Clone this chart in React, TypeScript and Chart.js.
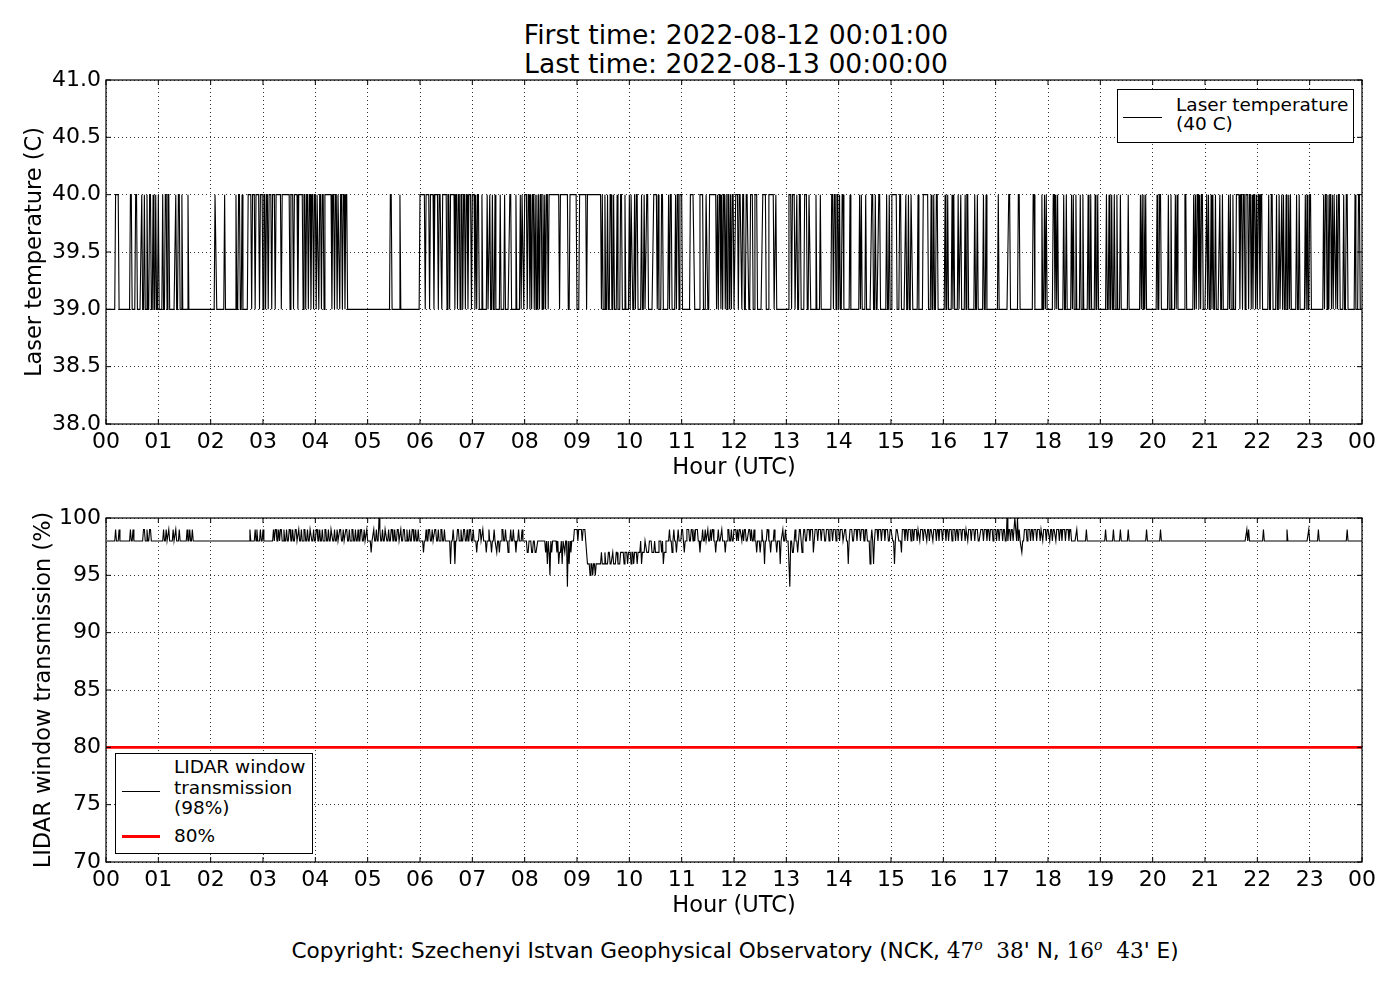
import React, { useEffect, useRef } from 'react';
import { Chart, registerables } from 'chart.js';

Chart.register(...registerables);

const FONT = "'DejaVu Sans', 'Liberation Sans', sans-serif";
const MATH_FONT = "'DejaVu Serif', 'Liberation Serif', serif";

// x tick labels, one per hour
const hourLabels = [
  '00', '01', '02', '03', '04', '05', '06', '07', '08', '09', '10', '11',
  '12', '13', '14', '15', '16', '17', '18', '19', '20', '21', '22', '23', '00',
];

// one sample per minute, 00:01 ... 24:00
const minuteCount = 1440;

// laser temperature: sits at 39 C, jumps to 40 C inside these [start, end) minute spans
const laserLow = 39;
const laserHigh = 40;
const laserHighSpans: [number, number][] = [
  [11, 15], [28, 30], [34, 36], [41, 42], [44, 45], [47, 48], [50, 52], [54, 55], [57, 58], [60, 61],
  [65, 66], [68, 70], [71, 73], [80, 81], [83, 85], [87, 88], [94, 95], [125, 127], [136, 137], [149, 150],
  [152, 154], [156, 157], [163, 167], [168, 171], [172, 176], [177, 180], [181, 183], [184, 186], [187, 190],
  [191, 194], [195, 201], [202, 211], [212, 215], [216, 220], [221, 226], [227, 229], [230, 232], [233, 235],
  [236, 238], [239, 241], [242, 244], [245, 247], [248, 250], [251, 259], [260, 262], [263, 265], [266, 268],
  [269, 271], [272, 274], [275, 277], [326, 328], [337, 338], [360, 366], [367, 371], [372, 376], [377, 381],
  [382, 385], [386, 391], [392, 394], [395, 400], [401, 403], [404, 406], [407, 409], [410, 412], [413, 415],
  [416, 419], [420, 423], [424, 425], [426, 428], [431, 432], [437, 438], [440, 441], [443, 444], [446, 447],
  [452, 453], [457, 458], [463, 465], [470, 471], [475, 476], [477, 479], [480, 483], [484, 486], [487, 488],
  [489, 491], [492, 493], [494, 495], [496, 497], [498, 500], [501, 502], [503, 504], [505, 507], [508, 520],
  [521, 530], [532, 540], [543, 551], [552, 568], [569, 570], [572, 573], [575, 576], [578, 580], [582, 583],
  [586, 587], [590, 592], [595, 596], [600, 601], [602, 604], [606, 607], [608, 610], [614, 615], [617, 618],
  [620, 622], [628, 632], [633, 634], [637, 639], [645, 646], [647, 649], [653, 654], [655, 657], [658, 661],
  [670, 675], [681, 685], [688, 690], [692, 700], [701, 702], [703, 705], [706, 707], [708, 710], [711, 712],
  [713, 715], [716, 717], [718, 720], [722, 725], [726, 729], [730, 732], [734, 737], [739, 742], [744, 747],
  [753, 757], [760, 766], [768, 769], [783, 786], [787, 790], [792, 793], [795, 797], [801, 804], [806, 808],
  [814, 815], [819, 820], [832, 834], [835, 837], [838, 840], [841, 842], [844, 846], [853, 854], [864, 865],
  [866, 867], [871, 872], [878, 880], [882, 883], [886, 888], [895, 896], [898, 899], [901, 907], [910, 912],
  [917, 918], [920, 921], [923, 925], [931, 932], [937, 943], [946, 947], [949, 950], [952, 954], [962, 963],
  [965, 966], [970, 971], [972, 973], [977, 978], [980, 981], [985, 986], [987, 989], [996, 997], [999, 1000],
  [1006, 1007], [1009, 1010], [1023, 1024], [1035, 1037], [1046, 1048], [1063, 1065], [1073, 1074],
  [1076, 1077], [1078, 1079], [1086, 1088], [1089, 1090], [1091, 1092], [1098, 1099], [1101, 1102],
  [1107, 1108], [1109, 1110], [1112, 1113], [1117, 1118], [1120, 1121], [1126, 1127], [1129, 1130],
  [1134, 1135], [1137, 1138], [1147, 1148], [1150, 1151], [1153, 1154], [1156, 1157], [1159, 1160],
  [1163, 1164], [1172, 1173], [1186, 1187], [1188, 1189], [1190, 1191], [1192, 1193], [1205, 1206],
  [1208, 1210], [1218, 1219], [1221, 1222], [1226, 1227], [1228, 1229], [1237, 1239], [1247, 1248],
  [1249, 1250], [1251, 1253], [1254, 1255], [1256, 1258], [1262, 1263], [1264, 1265], [1267, 1268],
  [1269, 1270], [1272, 1273], [1277, 1278], [1280, 1281], [1287, 1288], [1289, 1290], [1292, 1293],
  [1296, 1300], [1301, 1303], [1304, 1306], [1307, 1310], [1311, 1313], [1314, 1315], [1316, 1318],
  [1319, 1320], [1321, 1323], [1324, 1326], [1333, 1334], [1336, 1338], [1342, 1343], [1345, 1346],
  [1348, 1349], [1350, 1351], [1353, 1354], [1356, 1357], [1358, 1359], [1365, 1366], [1368, 1369],
  [1375, 1376], [1377, 1378], [1380, 1382], [1396, 1397], [1398, 1400], [1401, 1402], [1403, 1405],
  [1406, 1407], [1408, 1410], [1411, 1412], [1413, 1415], [1419, 1420], [1422, 1424], [1432, 1433],
  [1436, 1438],
];

// window transmission: 98 % unless inside one of these [start, end, value] spans
const windowBase = 98;
const windowSpans: [number, number, number][] = [
  [11, 12, 99], [15, 16, 99], [28, 29, 99], [31, 32, 99], [43, 45, 99], [47, 48, 99], [50, 52, 99],
  [66, 67, 99], [69, 70, 99], [72, 73, 99], [77, 78, 99], [80, 81, 99], [84, 85, 99], [93, 94, 99],
  [96, 97, 99], [99, 100, 99], [165, 166, 99], [171, 172, 99], [173, 174, 99], [177, 178, 99], [180, 181, 99],
  [192, 193, 99], [194, 196, 99], [198, 199, 99], [200, 202, 99], [204, 205, 99], [207, 208, 99], [210, 212, 99],
  [214, 215, 99], [217, 219, 99], [221, 222, 99], [224, 225, 99], [227, 229, 99], [231, 232, 99], [234, 236, 99],
  [238, 239, 99], [241, 243, 99], [245, 246, 99], [248, 249, 99], [251, 253, 99], [255, 256, 99], [258, 260, 99],
  [262, 263, 99], [265, 266, 99], [268, 270, 99], [272, 273, 99], [275, 277, 99], [279, 280, 99], [282, 284, 99],
  [286, 287, 99], [289, 290, 99], [292, 294, 99], [296, 297, 99], [299, 300, 99], [304, 305, 97], [307, 308, 99],
  [310, 311, 99], [313, 314, 100], [314, 315, 99], [317, 318, 99], [320, 322, 99], [324, 325, 99], [327, 329, 99],
  [331, 332, 99], [334, 336, 99], [338, 339, 99], [341, 343, 99], [345, 346, 99], [348, 349, 99], [351, 353, 99],
  [355, 356, 99], [358, 359, 99], [364, 365, 97], [367, 368, 99], [370, 372, 99], [374, 375, 99], [377, 379, 99],
  [381, 382, 99], [384, 386, 99], [388, 389, 99], [395, 396, 96], [398, 399, 99], [400, 401, 96], [403, 405, 99],
  [407, 408, 99], [410, 412, 99], [414, 415, 99], [417, 419, 99], [421, 422, 99], [425, 426, 97], [428, 430, 99],
  [432, 433, 99], [436, 437, 97], [439, 440, 99], [442, 443, 97], [445, 446, 99], [448, 449, 97], [451, 452, 97],
  [454, 456, 99], [458, 459, 99], [461, 462, 97], [464, 465, 99], [467, 468, 99], [470, 471, 97], [473, 474, 99],
  [477, 478, 99], [483, 485, 97], [488, 490, 97], [492, 495, 97], [504, 505, 97], [506, 507, 96], [508, 509, 97],
  [509, 510, 95], [511, 512, 97], [517, 518, 97], [519, 520, 96], [520, 522, 97], [523, 524, 96], [526, 527, 97],
  [529, 530, 94], [531, 532, 96], [533, 534, 97], [537, 541, 99], [542, 546, 99], [547, 550, 99], [551, 552, 97],
  [552, 555, 96], [555, 556, 95], [556, 558, 96], [558, 559, 95], [559, 561, 96], [561, 562, 95], [562, 568, 96],
  [568, 569, 97], [569, 572, 96], [572, 573, 97], [573, 576, 96], [576, 578, 97], [578, 581, 96], [581, 582, 97],
  [582, 585, 96], [585, 587, 97], [587, 590, 96], [590, 594, 97], [594, 595, 96], [595, 598, 97], [598, 599, 96],
  [599, 602, 97], [602, 603, 96], [603, 605, 97], [605, 606, 96], [606, 609, 97], [609, 610, 96], [610, 613, 97],
  [614, 615, 96], [615, 618, 97], [620, 623, 97], [626, 629, 97], [630, 634, 97], [637, 638, 97], [639, 640, 96],
  [640, 642, 97], [646, 647, 99], [649, 650, 97], [651, 652, 99], [654, 655, 97], [656, 657, 99], [660, 662, 99],
  [663, 664, 97], [666, 669, 99], [671, 673, 99], [674, 675, 99], [676, 679, 99], [681, 682, 97], [684, 685, 99],
  [687, 688, 99], [690, 691, 99], [693, 694, 99], [695, 697, 99], [699, 700, 97], [702, 703, 99], [706, 707, 99],
  [710, 711, 97], [713, 715, 99], [717, 718, 99], [720, 723, 99], [724, 725, 99], [726, 729, 99], [730, 731, 99],
  [732, 734, 99], [737, 739, 99], [740, 741, 99], [743, 744, 99], [746, 747, 97], [750, 751, 97], [752, 753, 99],
  [755, 756, 96], [758, 760, 99], [762, 763, 97], [766, 767, 99], [769, 770, 97], [773, 774, 96], [776, 777, 99],
  [779, 780, 99], [784, 785, 94], [787, 789, 97], [790, 791, 99], [793, 794, 97], [795, 797, 99], [798, 799, 97],
  [800, 802, 99], [804, 807, 99], [808, 811, 99], [811, 812, 97], [813, 816, 99], [817, 820, 99], [821, 824, 99],
  [826, 829, 99], [830, 833, 99], [834, 837, 99], [838, 841, 99], [842, 845, 99], [847, 849, 99], [851, 852, 96],
  [853, 856, 99], [858, 861, 99], [862, 865, 99], [866, 869, 99], [871, 873, 99], [876, 877, 96], [878, 879, 99],
  [880, 881, 96], [882, 885, 99], [886, 889, 99], [890, 893, 99], [894, 897, 99], [899, 902, 99], [904, 905, 96],
  [906, 909, 99], [912, 913, 97], [913, 916, 99], [917, 919, 99], [920, 923, 99], [924, 926, 99], [927, 930, 99],
  [931, 933, 99], [934, 937, 99], [938, 941, 99], [942, 944, 99], [945, 948, 99], [949, 952, 99], [953, 955, 99],
  [956, 959, 99], [960, 963, 99], [964, 966, 99], [967, 970, 99], [971, 974, 99], [975, 977, 99], [978, 981, 99],
  [982, 985, 99], [986, 988, 99], [989, 992, 99], [993, 996, 99], [997, 1000, 99], [1003, 1006, 99],
  [1007, 1010, 99], [1011, 1013, 99], [1014, 1017, 99], [1018, 1021, 99], [1022, 1024, 99], [1025, 1028, 99],
  [1029, 1031, 99], [1033, 1034, 100], [1035, 1037, 99], [1038, 1040, 99], [1042, 1043, 100], [1043, 1044, 99],
  [1045, 1046, 100], [1047, 1048, 99], [1050, 1051, 97], [1053, 1056, 99], [1057, 1060, 99], [1061, 1063, 99],
  [1064, 1067, 99], [1068, 1071, 99], [1072, 1074, 99], [1075, 1078, 99], [1079, 1082, 99], [1083, 1085, 99],
  [1086, 1089, 99], [1090, 1093, 99], [1094, 1096, 99], [1097, 1100, 99], [1101, 1104, 99], [1105, 1107, 99],
  [1113, 1114, 99], [1124, 1125, 99], [1146, 1147, 99], [1155, 1156, 99], [1163, 1164, 99], [1172, 1173, 99],
  [1193, 1194, 99], [1209, 1210, 99], [1308, 1309, 99], [1310, 1311, 99], [1327, 1328, 99], [1354, 1355, 99],
  [1379, 1380, 99], [1390, 1391, 99], [1423, 1424, 99],
];

// red reference line
const windowLimit = 80;

const minutes = Array.from({ length: minuteCount }, (_, i) => i + 1);

const laserPoints = minutes.map(m => ({
  x: m / 60,
  y: laserHighSpans.some(([a, b]) => m >= a && m < b) ? laserHigh : laserLow,
}));

const windowPoints = minutes.map(m => {
  const span = windowSpans.find(([a, b]) => m >= a && m < b);
  return { x: m / 60, y: span ? span[2] : windowBase };
});

// matplotlib-like box with inward ticks on all four sides
const framePlugin = {
  id: 'frame',
  afterDatasetsDraw(chart: any) {
    const { ctx, chartArea: a, scales } = chart;
    ctx.save();
    ctx.strokeStyle = '#000';
    ctx.lineWidth = 1.2;
    ctx.setLineDash([]);
    ctx.strokeRect(a.left, a.top, a.right - a.left, a.bottom - a.top);
    ctx.lineWidth = 1;
    ctx.beginPath();
    scales.x.ticks.forEach((t: any) => {
      const px = scales.x.getPixelForValue(t.value);
      ctx.moveTo(px, a.bottom);
      ctx.lineTo(px, a.bottom - 5);
      ctx.moveTo(px, a.top);
      ctx.lineTo(px, a.top + 5);
    });
    scales.y.ticks.forEach((t: any) => {
      const py = scales.y.getPixelForValue(t.value);
      ctx.moveTo(a.left, py);
      ctx.lineTo(a.left + 5, py);
      ctx.moveTo(a.right, py);
      ctx.lineTo(a.right - 5, py);
    });
    ctx.stroke();
    ctx.restore();
  },
};

const tickFont = { family: FONT, size: 22 };
const labelFont = { family: FONT, size: 22.5 };

function makeOptions(yMin: number, yMax: number, yStep: number, yDecimals: number, yTitle: string,
  padTop: number, yTitlePad: number): any {
  return {
    animation: false,
    responsive: true,
    maintainAspectRatio: false,
    layout: { padding: { left: 0, right: 38, top: padTop, bottom: 0 } },
    plugins: { legend: { display: false }, tooltip: { enabled: false }, title: { display: false } },
    scales: {
      x: {
        type: 'linear',
        min: 0,
        max: 24,
        ticks: {
          stepSize: 1,
          autoSkip: false,
          maxRotation: 0,
          padding: 5,
          color: '#000',
          font: tickFont,
          callback: (v: number) => hourLabels[Math.round(v)],
        },
        grid: { color: '#000', lineWidth: 0.8, drawTicks: false },
        border: { display: false, dash: [1, 3] },
        title: {
          display: true,
          text: 'Hour (UTC)',
          color: '#000',
          font: labelFont,
          padding: { top: 0, bottom: 8 },
        },
        afterFit: (s: any) => { s.height = 66; },
      },
      y: {
        type: 'linear',
        min: yMin,
        max: yMax,
        ticks: {
          stepSize: yStep,
          padding: 5,
          color: '#000',
          font: tickFont,
          callback: (v: number) => Number(v).toFixed(yDecimals),
        },
        grid: { color: '#000', lineWidth: 0.8, drawTicks: false },
        border: { display: false, dash: [1, 3] },
        title: {
          display: true,
          text: yTitle,
          color: '#000',
          font: labelFont,
          padding: { top: yTitlePad, bottom: 0 },
        },
        afterFit: (s: any) => { s.width = 106; },
      },
    },
  };
}

const LaserChart: React.FC = () => {
  const ref = useRef<HTMLCanvasElement>(null);
  useEffect(() => {
    if (!ref.current) return;
    const chart = new Chart(ref.current, {
      type: 'line',
      data: {
        datasets: [
          {
            label: 'Laser temperature (40 C)',
            data: laserPoints,
            borderColor: '#000',
            borderWidth: 1.1,
            pointRadius: 0,
            fill: false,
            tension: 0,
          },
        ],
      },
      options: makeOptions(38, 41, 0.5, 1, 'Laser temperature (C)', 80, 22),
      plugins: [framePlugin],
    });
    return () => chart.destroy();
  }, []);
  return (
    <div style={{ position: 'absolute', left: 0, top: 0, width: 1400, height: 490 }}>
      <canvas ref={ref}></canvas>
    </div>
  );
};

const WindowChart: React.FC = () => {
  const ref = useRef<HTMLCanvasElement>(null);
  useEffect(() => {
    if (!ref.current) return;
    const chart = new Chart(ref.current, {
      type: 'line',
      data: {
        datasets: [
          {
            label: 'LIDAR window transmission (98%)',
            data: windowPoints,
            borderColor: '#000',
            borderWidth: 1.1,
            pointRadius: 0,
            fill: false,
            tension: 0,
          },
          {
            label: '80%',
            data: [{ x: 0, y: windowLimit }, { x: 24, y: windowLimit }],
            borderColor: '#ff0000',
            borderWidth: 2.6,
            pointRadius: 0,
            fill: false,
          },
        ],
      },
      options: makeOptions(70, 100, 5, 0, 'LIDAR window transmission (%)', 28, 31),
      plugins: [framePlugin],
    });
    return () => chart.destroy();
  }, []);
  return (
    <div style={{ position: 'absolute', left: 0, top: 490, width: 1400, height: 438 }}>
      <canvas ref={ref}></canvas>
    </div>
  );
};

const abs = (left: number, top: number, extra: React.CSSProperties = {}): React.CSSProperties => ({
  position: 'absolute', left, top, ...extra,
});

export default function App() {
  return (
    <div style={{ position: 'absolute', left: 0, top: 0, width: 1400, height: 1000, background: '#fff', fontFamily: FONT, color: '#000' }}>
      <div style={abs(36, 20, { width: 1400, textAlign: 'center', fontSize: 26.6, lineHeight: '29px' })}>
        First time: 2022-08-12 00:01:00<br />Last time: 2022-08-13 00:00:00
      </div>

      <LaserChart />
      <WindowChart />

      {/* legend, top panel */}
      <div style={abs(1117, 89, { width: 237, height: 54, border: '1px solid #000', boxSizing: 'border-box', background: '#fff' })}>
        <div style={abs(5, 27, { width: 39, height: 1.3, background: '#000' })} />
        <div style={abs(58, 5, { fontSize: 18.5, lineHeight: '19px', whiteSpace: 'nowrap' })}>
          Laser temperature<br />(40 C)
        </div>
      </div>

      {/* legend, bottom panel */}
      <div style={abs(115, 753, { width: 198, height: 101, border: '1px solid #000', boxSizing: 'border-box', background: '#fff' })}>
        <div style={abs(6, 37, { width: 38, height: 1.3, background: '#000' })} />
        <div style={abs(58, 3, { fontSize: 18.5, lineHeight: '20.6px', whiteSpace: 'nowrap' })}>
          LIDAR window<br />transmission<br />(98%)
        </div>
        <div style={abs(6, 81, { width: 38, height: 2.7, background: '#ff0000' })} />
        <div style={abs(58, 71.5, { fontSize: 18.5, lineHeight: '20px', whiteSpace: 'nowrap' })}>80%</div>
      </div>

      <div style={abs(35, 933, { width: 1400, textAlign: 'center', fontSize: 21.6, lineHeight: '25px', whiteSpace: 'nowrap' })}>
        Copyright: Szechenyi Istvan Geophysical Observatory (NCK,{' '}
        <span style={{ fontFamily: MATH_FONT }}>47<sup style={{ fontStyle: 'italic', fontSize: 14 }}>o</sup>&nbsp;&nbsp;38</span>' N,{' '}
        <span style={{ fontFamily: MATH_FONT }}>16<sup style={{ fontStyle: 'italic', fontSize: 14 }}>o</sup>&nbsp;&nbsp;43</span>' E)
      </div>
    </div>
  );
}
